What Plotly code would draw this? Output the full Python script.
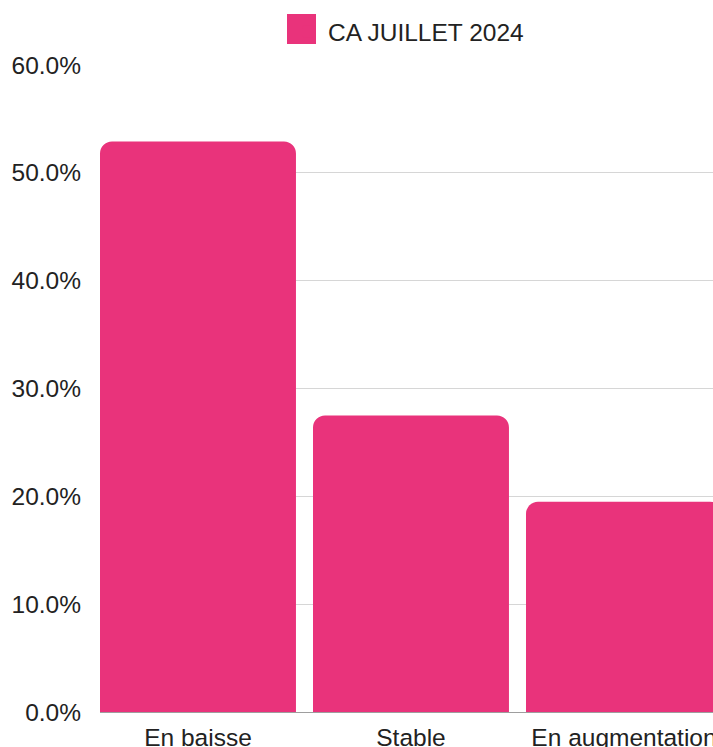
import plotly.graph_objects as go

categories = ["En baisse", "Stable", "En augmentation"]
values = [0.529, 0.275, 0.195]
series_name = "CA JUILLET 2024"
y_ticks = [0.0, 0.1, 0.2, 0.3, 0.4, 0.5, 0.6]

BAR = "#E9337B"
FONT = "Liberation Sans, Arial, sans-serif"
FS = 24.5

fig = go.Figure()
fig.add_trace(go.Bar(
    x=categories, y=values, name=series_name,
    marker=dict(color=BAR, cornerradius=12, line=dict(width=0)),
    width=0.92, showlegend=True,
))

W, H = 713, 747
L, R, T, B = 100, 0, 65, 35

fig.update_layout(
    width=W, height=H,
    margin=dict(l=L, r=R, t=T, b=B, autoexpand=False),
    paper_bgcolor="white", plot_bgcolor="white",
    font=dict(family=FONT, size=FS, color="#222222"),
    showlegend=True,
    legend=dict(orientation="h", xref="container", yref="container",
                x=288 / W, xanchor="left", y=1 - 9 / H, yanchor="top",
                font=dict(size=FS, color="#222222"), bgcolor="rgba(0,0,0,0)",
                borderwidth=0),
    bargap=0.08,
    shapes=[dict(type="rect", xref="paper", yref="paper",
                 x0=(287 - L) / (W - L - R), x1=(316 - L) / (W - L - R),
                 y0=1 + (65 - 44) / (H - T - B), y1=1 + (65 - 14) / (H - T - B),
                 fillcolor=BAR, line=dict(width=0), layer="above")],
)
fig.update_xaxes(
    range=[-0.46, -0.46 + (W - L - R) / 213.0],
    showgrid=False, showline=True, linecolor="#9e9e9e", linewidth=1,
    ticks="", ticklabelstandoff=4, automargin=False,
    tickfont=dict(size=FS, color="#222222"), fixedrange=True,
)
fig.update_yaxes(
    range=[0, 0.6], tickvals=y_ticks, tickformat=".1%",
    showgrid=True, gridcolor="#d6d6d6", gridwidth=1, zeroline=False,
    ticks="", ticklabelstandoff=18, automargin=False,
    tickfont=dict(size=FS, color="#222222"), fixedrange=True,
)

fig.write_html(
    "out.html",
    config={"displayModeBar": False},
    post_script="document.body.style.margin='0';document.body.style.overflow='hidden';",
)
